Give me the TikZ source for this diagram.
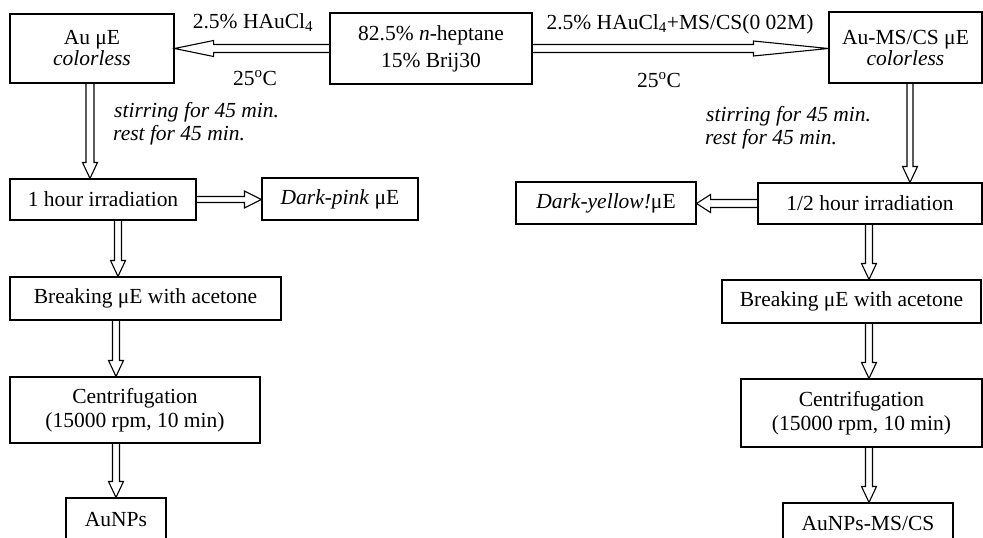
\documentclass[tikz,border=0pt]{standalone}
\usepackage{fontspec}
\setmainfont{Liberation Serif}
\usetikzlibrary{calc}
\newcommand\fsz{\fontsize{21.5}{24}\selectfont}
\tikzset{
  box/.style={draw, line width=1.1pt, inner sep=0pt, align=center, font=\fsz},
  lbl/.style={inner sep=0pt, font=\fsz},
  hl/.store in=\hl, hw/.store in=\hw, sw/.store in=\sw,
  hol/.style={draw, line width=1.1pt, line join=miter, hl=16, hw=7.5, sw=3.5,
    to path={let \p1=(\tikztostart), \p2=(\tikztotarget),
      \n1={veclen(\x2-\x1,\y2-\y1)}, \n2={(\x2-\x1)/\n1}, \n3={(\y2-\y1)/\n1} in
      ({\x1-\sw*\n3},{\y1+\sw*\n2}) --
      ({\x2-\hl*\n2-\sw*\n3},{\y2-\hl*\n3+\sw*\n2}) --
      ({\x2-\hl*\n2-\hw*\n3},{\y2-\hl*\n3+\hw*\n2}) --
      (\x2,\y2) --
      ({\x2-\hl*\n2+\hw*\n3},{\y2-\hl*\n3-\hw*\n2}) --
      ({\x2-\hl*\n2+\sw*\n3},{\y2-\hl*\n3-\sw*\n2}) --
      ({\x1+\sw*\n3},{\y1-\sw*\n2})}}
}
\begin{document}
\begin{tikzpicture}[x=1pt, y=-1pt]
\useasboundingbox (0,0) rectangle (983,538);
% top row
\node[box, minimum width=164, minimum height=69] (au) at (92,48.5) {Au μE\\[-3pt]\textit{colorless}};
\node[box, minimum width=202, minimum height=71] (c) at (431,48.5) {82.5\% \textit{n}-heptane\\[3pt]15\% Brij30};
\node[box, minimum width=153, minimum height=71] (ams) at (905.5,47.5) {Au-MS/CS μE\\[-3pt]\textit{colorless}};
% left column
\node[box, minimum width=186, minimum height=41] (irr1) at (103,199.5) {1 hour irradiation};
\node[box, minimum width=156, minimum height=42] (pink) at (340,199) {\textit{Dark-pink} μE};
\node[box, minimum width=271, minimum height=43] (brk1) at (145.5,298.5) {Breaking μE with acetone};
\node[box, minimum width=250, minimum height=66] (cen1) at (135,410) {Centrifugation\\(15000 rpm, 10 min)};
\node[box, minimum width=100, minimum height=44] (np1) at (116,520) {AuNPs};
% right column
\node[box, minimum width=224, minimum height=41] (irr2) at (870,203.5) {1/2 hour irradiation};
\node[box, minimum width=180, minimum height=42] (yel) at (606,203) {\textit{Dark-yellow!}μE};
\node[box, minimum width=259, minimum height=43] (brk2) at (851.5,301.5) {Breaking μE with acetone};
\node[box, minimum width=241, minimum height=68] (cen2) at (861.5,413) {Centrifugation\\(15000 rpm, 10 min)};
\node[box, minimum width=170, minimum height=40] (np2) at (868,523) {AuNPs-MS/CS};
% labels
\node[lbl, anchor=base] (l1) at (253,28) {2.5\% HAuCl\textsubscript{4}};
\node[lbl, anchor=base] (l2) at (255,85) {25\textsuperscript{o}C};
\node[lbl, anchor=base] (l3) at (680,29) {2.5\% HAuCl\textsubscript{4}+MS/CS(0 02M)};
\node[lbl, anchor=base] (l4) at (659,87) {25\textsuperscript{o}C};
\node[lbl, anchor=base west] (s1) at (114,117) {\textit{stirring for 45 min.}};
\node[lbl, anchor=base west] (s2) at (113,140) {\textit{rest for 45 min.}};
\node[lbl, anchor=base west] (s3) at (706,121) {\textit{stirring for 45 min.}};
\node[lbl, anchor=base west] (s4) at (705,144) {\textit{rest for 45 min.}};
% arrow end points
\coordinate (v1s) at ([xshift=-2pt]au.south);   \coordinate (v1e) at (v1s |- irr1.north);
\coordinate (v2s) at ([xshift=15pt]irr1.south); \coordinate (v2e) at (v2s |- brk1.north);
\coordinate (v3s) at ([xshift=-29.5pt]brk1.south); \coordinate (v3e) at (v3s |- cen1.north);
\coordinate (v4s) at ([xshift=-19pt]cen1.south); \coordinate (v4e) at (v4s |- np1.north);
\coordinate (v5s) at ([xshift=4.5pt]ams.south); \coordinate (v5e) at (v5s |- irr2.north);
\coordinate (v6s) at ([xshift=-1pt]irr2.south); \coordinate (v6e) at (v6s |- brk2.north);
\coordinate (v7s) at ([xshift=17.5pt]brk2.south); \coordinate (v7e) at (v7s |- cen2.north);
\coordinate (v8s) at ([xshift=7.5pt]cen2.south); \coordinate (v8e) at (v8s |- np2.north);
% arrows
\draw[hol, hl=39, hw=8, sw=4] (c.west) to (au.east);
\draw[hol, hl=75, hw=7.5, sw=4] (c.east) to (c.east -| ams.west);
\draw[hol, hl=17, hw=8.5, sw=3] (irr1.east) to (irr1.east -| pink.west);
\draw[hol, hl=14, hw=9, sw=4] (irr2.west) to (irr2.west -| yel.east);
\draw[hol, sw=4] (v1s) to (v1e);
\draw[hol] (v2s) to (v2e);
\draw[hol] (v3s) to (v3e);
\draw[hol] (v4s) to (v4e);
\draw[hol, sw=3] (v5s) to (v5e);
\draw[hol] (v6s) to (v6e);
\draw[hol] (v7s) to (v7e);
\draw[hol] (v8s) to (v8e);
\end{tikzpicture}
\end{document}
